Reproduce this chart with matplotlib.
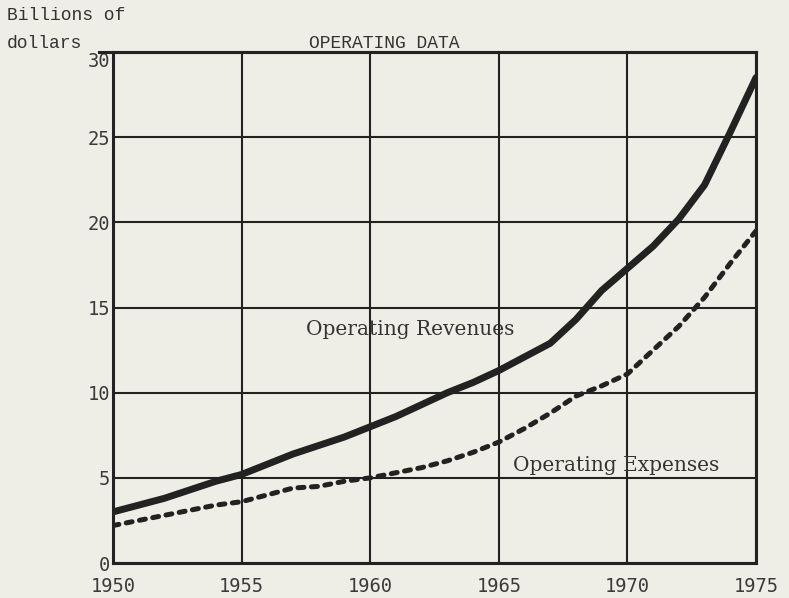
import matplotlib
matplotlib.use("Agg")
import matplotlib.pyplot as plt

years = list(range(1950, 1976))
revenues = [3.0, 3.4, 3.8, 4.3, 4.8, 5.2, 5.8, 6.4, 6.9, 7.4, 8.0, 8.6, 9.3,
            10.0, 10.6, 11.3, 12.1, 12.9, 14.3, 16.0, 17.3, 18.6, 20.2, 22.2,
            25.3, 28.5]
expenses = [2.2, 2.5, 2.8, 3.1, 3.4, 3.6, 4.0, 4.4, 4.5, 4.8, 5.0, 5.3, 5.6,
            6.0, 6.5, 7.1, 7.9, 8.8, 9.8, 10.4, 11.1, 12.5, 13.9, 15.6, 17.6,
            19.5]
x_ticks = [1950, 1955, 1960, 1965, 1970, 1975]
y_ticks = [0, 5, 10, 15, 20, 25, 30]

bg = "#efeee6"
ink = "#222222"

fig = plt.figure(figsize=(7.89, 5.98), dpi=100, facecolor=bg)
ax = fig.add_axes([0.1432, 0.0585, 0.9582 - 0.1432, 0.9130 - 0.0585])
ax.set_facecolor(bg)

ax.set_xlim(1950, 1975)
ax.set_ylim(0, 30)
ax.set_xticks(x_ticks, [str(v) for v in x_ticks])
ax.set_yticks(y_ticks, [str(v) for v in y_ticks])
ax.grid(True, color=ink, linewidth=1.5)
ax.set_axisbelow(True)
for s in ax.spines.values():
    s.set_linewidth(2.2)
    s.set_color(ink)
ax.tick_params(length=0, labelsize=13.5, labelcolor="#3a3a3a")
ax.tick_params(axis="x", pad=10)
ax.tick_params(axis="y", pad=2)
for lbl in ax.get_xticklabels() + ax.get_yticklabels():
    lbl.set_family("DejaVu Sans Mono")
for lbl in ax.get_yticklabels():
    if lbl.get_text() == "30":
        lbl.set_verticalalignment("top")

ax.plot(years, revenues, color=ink, linewidth=5, solid_capstyle="round",
        solid_joinstyle="round", zorder=3)
ax.plot(years, expenses, color=ink, linewidth=3.6, linestyle=(0, (1.2, 1.5)),
        dash_capstyle="round", zorder=3)

# top line extends left of axis
ax.plot([-0.022, 1.0], [1.0, 1.0], transform=ax.transAxes, color=ink,
        linewidth=2.2, clip_on=False, zorder=4)

ax.text(1957.5, 13.7, "Operating Revenues", family="DejaVu Serif", fontsize=14.5,
        color="#333333", va="center", ha="left")
ax.text(1965.55, 5.75, "Operating Expenses", family="DejaVu Serif", fontsize=14.5,
        color="#333333", va="center", ha="left")

fig.text(309 / 789, 1 - 44 / 598, "OPERATING DATA", family="Liberation Mono",
         fontsize=13, color="#333333", va="center", ha="left")
fig.text(7 / 789, 1 - 16 / 598, "Billions of", family="Liberation Mono",
         fontsize=13, color="#333333", va="center", ha="left")
fig.text(7 / 789, 1 - 43 / 598, "dollars", family="Liberation Mono",
         fontsize=13, color="#333333", va="center", ha="left")

fig.savefig("out.png", dpi=100, facecolor=bg)
